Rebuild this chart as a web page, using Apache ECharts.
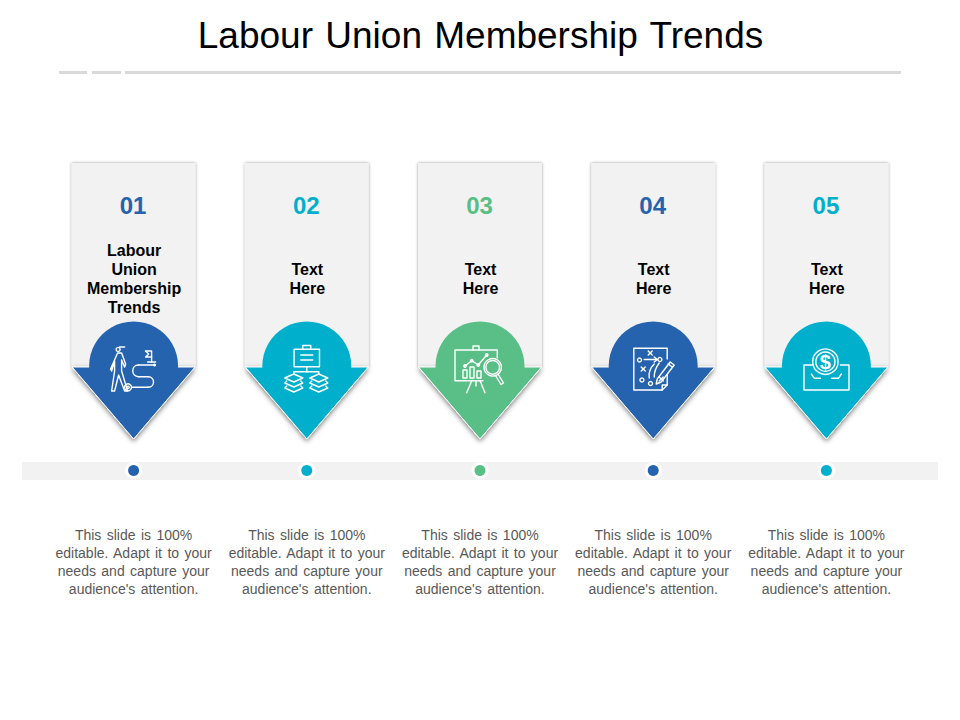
<!DOCTYPE html>
<html>
<head>
<meta charset="utf-8">
<title>Labour Union Membership Trends</title>
<style>
  html, body { margin: 0; padding: 0; background: #fff; }
  #main { width: 960px; height: 720px; }
  /* the slide has wider gaps between words than the font does */
  #main text[style*="14px"] { word-spacing: 1.5px; }
  #main text[style*="37px"] { word-spacing: 2px; }
</style>
<script src="https://cdn.jsdelivr.net/npm/echarts@6/dist/echarts.min.js"></script>
</head>
<body>
<div id="main"></div>
<script>
var titleText = 'Labour Union Membership Trends';
var stepNumbers = ['01', '02', '03', '04', '05'];
var stepHeadings = ['Labour\nUnion\nMembership\nTrends', 'Text\nHere', 'Text\nHere', 'Text\nHere', 'Text\nHere'];
var stepBody = "This slide is 100%\neditable. Adapt it to your\nneeds and capture your\naudience's attention.";
var stepColors = ['#2563AE', '#00AFCB', '#59BF86', '#2563AE', '#00AFCB'];

var font = '"Liberation Sans", Arial, sans-serif';
var arrowTopY = 367;

// icon drawings, x/y relative to the arrow centre
var iconLines = [
    [
        [[-16, -14], [-12, -14], [-8, -3], [-9, 0], [-12, -7], [-12, 4], [-6, 24], [-9, 24], [-15, 8], [-19, 24], [-22, 24], [-19, 4], [-19, -6], [-22, 4], [-23, 2], [-16, -14]],
        [[-14, -20], [-9, -20]],
        [[12, -16], [18, -16], [18, -5]],
        [[12, -16], [15, -13], [12, -10], [18, -10]],
        [[14, -5], [22, -5]],
        [[21, -2], [5, -2]],
        [[5, 9.7], [14.6, 9.7]],
        [[14.6, 20.3], [-2, 20.3]]
    ],
    [
        [[-12.7, -17.7], [12.7, -17.7], [12.7, -0.3], [-12.7, -0.3], [-12.7, -17.7]],
        [[-4, -17.7], [-4, -21.5], [4, -21.5], [4, -17.7]],
        [[-6, -12], [6, -12]],
        [[-6, -7], [6, -7]],
        [[0, -0.3], [0, 4.7]],
        [[-13, 7], [-13, 4.7], [12, 4.7], [12, 7]],
        [[-13, 7], [-4, 11], [-13, 15], [-22, 11], [-13, 7]],
        [[-20, 14], [-22, 16], [-13, 20], [-4, 16], [-6, 14]],
        [[-20, 19], [-22, 21], [-13, 25], [-4, 21], [-6, 19]],
        [[12, 7], [21, 11], [12, 15], [3, 11], [12, 7]],
        [[5, 14], [3, 16], [12, 20], [21, 16], [19, 14]],
        [[5, 19], [3, 21], [12, 25], [21, 21], [19, 19]]
    ],
    [
        [[3, 13.7], [-25, 13.7], [-25, -17], [17.3, -17], [17.3, -9]],
        [[-7, -17], [-7, -21], [-1, -21], [-1, -17]],
        [[-8.3, 13.7], [-13.3, 25.7]],
        [[0, 13.7], [5, 25.7]],
        [[-4, 13.7], [-4, 19]],
        [[-17, 11], [-17, 3], [-13, 3], [-13, 11], [-17, 11]],
        [[-10, 11], [-10, 0], [-6, 0], [-6, 11], [-10, 11]],
        [[-3, 11], [-3, 4], [1, 4], [1, 11], [-3, 11]],
        [[-15, -1], [-8.3, -6.3], [-1.7, -2], [6.7, -12]],
        [[18, 7], [23.5, 16], [21, 17.5], [15.5, 8.5]]
    ],
    [
        [[14, 18], [9, 23], [-19.4, 23], [-19.4, -18.7], [14, -18.7], [14, -8]],
        [[14, 8], [14, 18], [9, 18], [9, 23]],
        [[-5, -16], [-1, -12]],
        [[-1, -16], [-5, -12]],
        [[-9, -7.5], [4, -7.5]],
        [[1, -10], [4, -7.5], [1, -5]],
        [[-12, 0], [-8, 4]],
        [[-8, 0], [-12, 4]],
        [[6, 10], [10, 14]],
        [[10, 10], [6, 14]],
        [[4, 12], [17, -5], [21, -2], [8, 15], [3, 17], [4, 12]],
        [[15, -3], [19, 0]]
    ],
    [
        [[-13, -2], [-22.4, -2], [-22.4, 23], [22.6, 23], [22.6, -2], [14, -2]],
        [[-15, 7], [-12, 11.3], [-6, 11.3]],
        [[5, 11.3], [12, 11.3], [15, 7]]
    ]
];
// bezier curves are [x1, y1, cp1x, cp1y, cp2x, cp2y, x2, y2]
var iconCurves = [
    [
        [5, -2, -2.8, -2, -2.8, 9.7, 5, 9.7],
        [14.6, 9.7, 21.7, 9.7, 21.7, 20.3, 14.6, 20.3]
    ],
    [],
    [],
    [
        [-4, 11, -5, 4, -2, 0, 1, -3],
        [1, 10, 1, 4, 3, 0, 6, -4]
    ],
    []
];
// rings are [x, y, r]
var iconRings = [
    [[-15.5, -17.5, 2], [-5.6, 20.3, 3.5], [-5.6, 20.3, 1.2], [21, -2, 0.8]],
    [],
    [[12.7, 0.3, 8.7], [12.7, 0.3, 6.8], [-15, -1, 1.2], [-8.3, -6.3, 1.2], [-1.7, -2, 1.2], [6.7, -12, 1.2]],
    [[-13.7, -7, 2], [6.7, -7.5, 2], [-11.3, 13, 2], [-2.7, 16.5, 2]],
    [[-1, -5.3, 12.7], [-1, -5.3, 9.6]]
];

var myChart = echarts.init(document.getElementById('main'), null, {renderer: 'svg'});

function renderStep(params, api) {
    var i = api.value(0);
    var cx = api.coord([i, 0])[0];
    var topY = api.coord([i, arrowTopY])[1];
    var cardY = api.coord([i, 163])[1];
    var dotY = api.coord([i, 470.5])[1];
    var color = stepColors[i];
    var children = [
        {
            type: 'rect',
            shape: {x: cx - 62, y: cardY, width: 124, height: topY - cardY},
            style: {fill: '#f2f2f2', shadowBlur: 3, shadowColor: 'rgba(0,0,0,0.4)'}
        },
        {
            type: 'polygon',
            shape: {points: [[cx - 61.5, topY], [cx + 61.5, topY], [cx, topY + 72]]},
            style: {fill: color, stroke: '#fff', lineWidth: 1, shadowBlur: 5, shadowOffsetY: 2, shadowColor: 'rgba(0,0,0,0.5)'}
        },
        {
            type: 'circle',
            shape: {cx: cx, cy: topY - 1, r: 44.5},
            style: {fill: color}
        },
        {
            type: 'text',
            style: {
                x: cx - 0.5, y: api.coord([i, 205.5])[1], text: stepNumbers[i], fill: color,
                font: 'bold 24px ' + font, align: 'center', verticalAlign: 'middle'
            }
        },
        {
            type: 'text',
            style: {
                x: cx + 0.5, y: api.coord([i, 279])[1], text: stepHeadings[i], fill: '#000',
                font: 'bold 16px ' + font, lineHeight: 19, align: 'center', verticalAlign: 'middle'
            }
        },
        {
            type: 'circle',
            shape: {cx: cx, cy: dotY, r: 8.5},
            style: {fill: '#fff'}
        },
        {
            type: 'circle',
            shape: {cx: cx, cy: dotY, r: 5.5},
            style: {fill: color}
        },
        {
            type: 'text',
            style: {
                x: cx, y: api.coord([i, 562])[1], text: stepBody, fill: '#595959',
                font: '14px ' + font, lineHeight: 17.7, align: 'center', verticalAlign: 'middle'
            }
        }
    ];

    // icon in white outline on top of the arrow
    var iconStyle = {fill: 'none', stroke: '#fff', lineWidth: 1.4, lineJoin: 'round', lineCap: 'round'};
    function shift(p) {
        return [cx + p[0], topY + p[1]];
    }
    iconLines[i].forEach(function (pts) {
        children.push({type: 'polyline', shape: {points: pts.map(shift)}, style: iconStyle});
    });
    iconCurves[i].forEach(function (c) {
        children.push({
            type: 'bezierCurve',
            shape: {
                x1: cx + c[0], y1: topY + c[1],
                cpx1: cx + c[2], cpy1: topY + c[3],
                cpx2: cx + c[4], cpy2: topY + c[5],
                x2: cx + c[6], y2: topY + c[7]
            },
            style: iconStyle
        });
    });
    iconRings[i].forEach(function (r) {
        children.push({type: 'circle', shape: {cx: cx + r[0], cy: topY + r[1], r: r[2]}, style: iconStyle});
    });
    if (i === 4) {
        children.push({
            type: 'text',
            style: {
                x: cx - 1, y: topY - 5, text: '$', fill: '#fff',
                font: 'bold 20px ' + font, align: 'center', verticalAlign: 'middle'
            }
        });
    }
    return {type: 'group', children: children};
}

var option = {
    animation: false,
    backgroundColor: '#fff',
    title: {
        text: titleText,
        left: 475.5,
        textAlign: 'center',
        top: 12,
        textStyle: {fontFamily: font, fontSize: 37, fontWeight: 'normal', color: '#000'}
    },
    grid: {left: 47, width: 866, top: 0, height: 720},
    xAxis: {type: 'category', data: stepNumbers, show: false},
    yAxis: {type: 'value', min: 0, max: 720, inverse: true, show: false},
    graphic: [
        {type: 'rect', shape: {x: 59, y: 71, width: 28, height: 3}, style: {fill: '#d9d9d9'}},
        {type: 'rect', shape: {x: 92, y: 71, width: 29, height: 3}, style: {fill: '#d9d9d9'}},
        {type: 'rect', shape: {x: 125, y: 71, width: 776, height: 3}, style: {fill: '#d9d9d9'}},
        {type: 'rect', shape: {x: 22, y: 462, width: 916, height: 18}, style: {fill: '#f2f2f2'}}
    ],
    series: [{
        type: 'custom',
        coordinateSystem: 'cartesian2d',
        silent: true,
        clip: false,
        encode: {x: 0},
        data: stepNumbers.map(function (n, i) { return [i]; }),
        renderItem: renderStep
    }]
};
myChart.setOption(option);
</script>
</body>
</html>
